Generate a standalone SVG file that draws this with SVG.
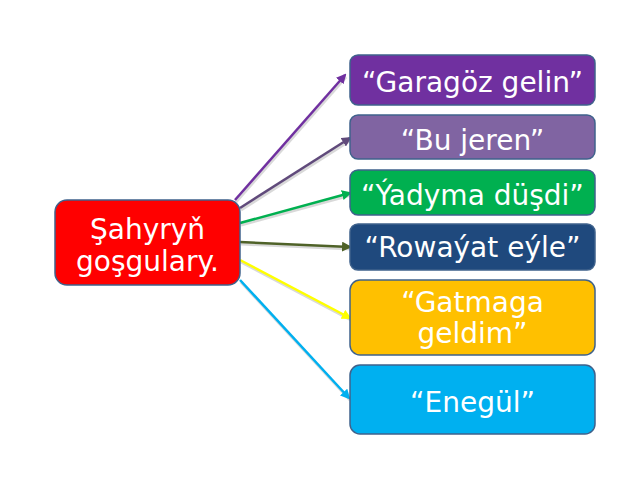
<svg xmlns="http://www.w3.org/2000/svg" width="640" height="480" viewBox="0 0 640 480">
<style>
.n{stroke:#3F628C;stroke-width:1.5}
.t{font-family:"DejaVu Sans",sans-serif;fill:#fff;text-anchor:middle;font-size:28px}
.c{fill:none;stroke-width:2.5}
.s{fill:none;stroke:#000;stroke-opacity:0.15;stroke-width:3}
</style>
<defs>
<marker id="m1" viewBox="0 0 10 10" refX="8" refY="5" markerWidth="4" markerHeight="4" orient="auto" markerUnits="strokeWidth"><path d="M0,0L10,5L0,10z" fill="#7030A0"/></marker>
<marker id="m2" viewBox="0 0 10 10" refX="8" refY="5" markerWidth="4" markerHeight="4" orient="auto" markerUnits="strokeWidth"><path d="M0,0L10,5L0,10z" fill="#604A7B"/></marker>
<marker id="m3" viewBox="0 0 10 10" refX="8" refY="5" markerWidth="4" markerHeight="4" orient="auto" markerUnits="strokeWidth"><path d="M0,0L10,5L0,10z" fill="#00B050"/></marker>
<marker id="m4" viewBox="0 0 10 10" refX="8" refY="5" markerWidth="4" markerHeight="4" orient="auto" markerUnits="strokeWidth"><path d="M0,0L10,5L0,10z" fill="#4F6228"/></marker>
<marker id="m5" viewBox="0 0 10 10" refX="8" refY="5" markerWidth="4" markerHeight="4" orient="auto" markerUnits="strokeWidth"><path d="M0,0L10,5L0,10z" fill="#FFFF00"/></marker>
<marker id="m6" viewBox="0 0 10 10" refX="8" refY="5" markerWidth="4" markerHeight="4" orient="auto" markerUnits="strokeWidth"><path d="M0,0L10,5L0,10z" fill="#00B0F0"/></marker>
</defs>
<rect width="640" height="480" fill="#fff"/>
<g id="connectors">
<line class="s" x1="236" y1="202" x2="346" y2="77"/>
<line class="s" x1="241" y1="210" x2="351" y2="140"/>
<line class="s" x1="241" y1="225" x2="351" y2="195"/>
<line class="s" x1="241" y1="244" x2="351" y2="249"/>
<line class="s" x1="241" y1="262" x2="351" y2="320"/>
<line class="s" x1="241" y1="282" x2="350" y2="400"/>
<line class="c" stroke="#7030A0" marker-end="url(#m1)" x1="235" y1="200" x2="345" y2="75"/>
<line class="c" stroke="#604A7B" marker-end="url(#m2)" x1="240" y1="208" x2="350" y2="138"/>
<line class="c" stroke="#00B050" marker-end="url(#m3)" x1="240" y1="223" x2="350" y2="193"/>
<line class="c" stroke="#4F6228" marker-end="url(#m4)" x1="240" y1="242" x2="350" y2="247"/>
<line class="c" stroke="#FFFF00" marker-end="url(#m5)" x1="240" y1="260" x2="350" y2="318"/>
<line class="c" stroke="#00B0F0" marker-end="url(#m6)" x1="240" y1="280" x2="349" y2="398"/>
</g>
<g id="root">
<rect class="n" x="55" y="200" width="185" height="85" rx="12" fill="#FF0000"/>
<text class="t" x="147.5" y="239">Şahyryň</text>
<text class="t" x="147.5" y="271">goşgulary.</text>
</g>
<g id="n1">
<rect class="n" x="350" y="55" width="245" height="50" rx="8" fill="#7030A0"/>
<text class="t" x="472.5" y="92">“Garagöz gelin”</text>
</g>
<g id="n2">
<rect class="n" x="350" y="115" width="245" height="44" rx="8" fill="#8064A2"/>
<text class="t" x="472.5" y="150">“Bu jeren”</text>
</g>
<g id="n3">
<rect class="n" x="350" y="170" width="245" height="45" rx="8" fill="#00B050"/>
<text class="t" x="472.5" y="205">“Ýadyma düşdi”</text>
</g>
<g id="n4">
<rect class="n" x="350" y="224" width="245" height="46" rx="8" fill="#1F497D"/>
<text class="t" x="472.5" y="257">“Rowaýat eýle”</text>
</g>
<g id="n5">
<rect class="n" x="350" y="280" width="245" height="75" rx="10" fill="#FFC000"/>
<text class="t" x="472.5" y="312">“Gatmaga</text>
<text class="t" x="472.5" y="343">geldim”</text>
</g>
<g id="n6">
<rect class="n" x="350" y="365" width="245" height="69" rx="10" fill="#00B0F0"/>
<text class="t" x="472.5" y="412">“Enegül”</text>
</g>
</svg>
